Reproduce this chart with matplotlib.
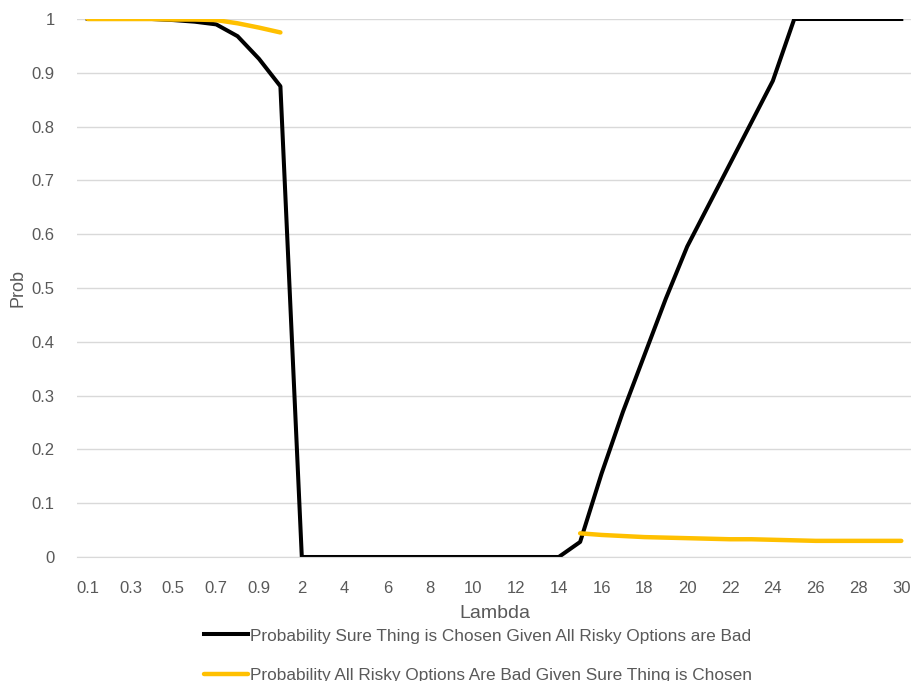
import numpy as np
import matplotlib.pyplot as plt

plt.rcParams['font.family'] = ['Liberation Sans Narrow', 'Liberation Sans', 'DejaVu Sans']

# lambda categories (even spacing on the axis)
lambdas = ['0.1', '0.2', '0.3', '0.4', '0.5', '0.6', '0.7', '0.8', '0.9', '1'] + \
          [str(v) for v in range(2, 31)]

# Probability Sure Thing is Chosen Given All Risky Options are Bad
sure_given_bad = [1.0, 1.0, 1.0, 1.0, 0.998, 0.995, 0.99, 0.968, 0.926, 0.875,
                  0, 0, 0, 0, 0, 0, 0, 0, 0, 0, 0, 0, 0,
                  0.028, 0.155, 0.27, 0.375, 0.48, 0.577, 0.654, 0.731, 0.808, 0.885,
                  1.0, 1.0, 1.0, 1.0, 1.0, 1.0]

# Probability All Risky Options Are Bad Given Sure Thing is Chosen (gap 2..14)
bad_given_sure = [1.0, 1.0, 1.0, 1.0, 0.999, 0.999, 0.998, 0.992, 0.984, 0.975,
                  None, None, None, None, None, None, None, None, None, None, None, None, None,
                  0.044, 0.041, 0.039, 0.037, 0.036, 0.035, 0.034, 0.033, 0.033, 0.032,
                  0.031, 0.030, 0.030, 0.030, 0.030, 0.030]

x = np.arange(len(lambdas))
y2 = np.array([np.nan if v is None else v for v in bad_given_sure])

fig = plt.figure(figsize=(9.12, 6.81), dpi=100)
ax = fig.add_axes([77/912, 1 - 557/681, 835/912, 538/681])

ax.plot(x, sure_given_bad, color='black', lw=2.9, solid_joinstyle='round',
        label='Probability Sure Thing is Chosen Given All Risky Options are Bad')
ax.plot(x, y2, color='#FFC000', lw=3.2, solid_capstyle='round',
        label='Probability All Risky Options Are Bad Given Sure Thing is Chosen')

ax.set_xlim(-0.5, len(lambdas) - 0.5)
ax.set_ylim(0, 1)
ax.set_yticks(np.arange(0, 1.01, 0.1))
ax.set_yticklabels(['0'] + ['%.1f' % v for v in np.arange(0.1, 0.95, 0.1)] + ['1'])
ax.set_xticks(x[::2])
ax.set_xticklabels(lambdas[::2])
ax.tick_params(length=0, labelsize=12, colors='#595959')
ax.tick_params(axis='x', pad=17)
ax.tick_params(axis='y', pad=16)

ax.grid(axis='y', color='#D9D9D9', lw=1)
ax.set_axisbelow(True)
for s in ['top', 'right', 'left']:
    ax.spines[s].set_visible(False)
ax.spines['bottom'].set_color('#D9D9D9')

ax.set_xlabel('Lambda', fontsize=14, color='#595959', labelpad=7)
ax.set_ylabel('Prob', fontsize=13, color='#595959', labelpad=4)

leg = ax.legend(loc='upper center', bbox_to_anchor=(0.48, -0.104), ncol=1, frameon=False,
                fontsize=12.4, handlelength=2.6, handletextpad=0.1, labelspacing=1.4,
                labelcolor='#595959')

fig.savefig('out.png', dpi=100)
